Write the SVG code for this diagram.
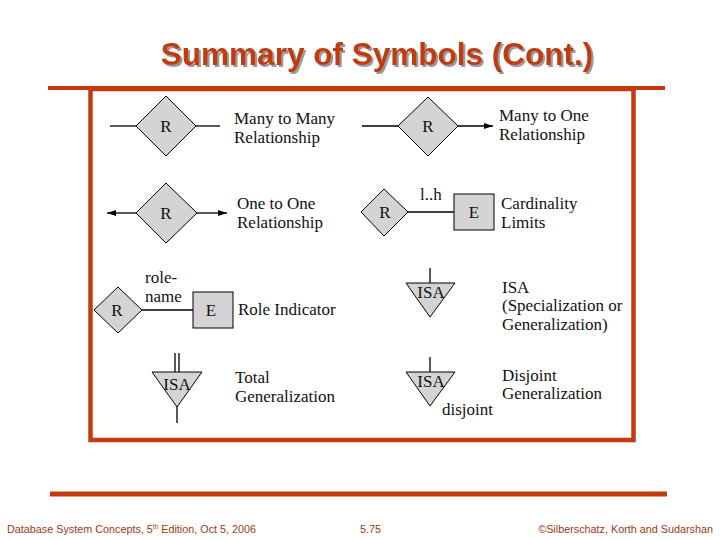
<svg xmlns="http://www.w3.org/2000/svg" width="720" height="540" viewBox="0 0 720 540">
<style>
.frame{stroke:#c23b0e;fill:none}
.shape{fill:#d4d4d4;stroke:#000;stroke-width:1}
.ln{stroke:#000;stroke-width:1.3;fill:none}
.t{font-family:"Liberation Serif","DejaVu Serif",serif;font-size:17px;fill:#111}
.c{text-anchor:middle}
.title{font-family:"Liberation Sans",Arial,sans-serif;font-weight:bold;font-size:31.5px;text-anchor:middle}
.foot{font-family:"Liberation Sans",Arial,sans-serif;font-size:10.8px;fill:#9a3a12}
</style>
<defs>
<marker id="arr" markerUnits="userSpaceOnUse" markerWidth="10" markerHeight="8" refX="9" refY="4" orient="auto">
<path d="M0,1 L9,4 L0,7 z" fill="#000"/>
</marker>
<filter id="shadow" x="-5%" y="-20%" width="110%" height="140%">
<feDropShadow dx="2" dy="2" stdDeviation="0.4" flood-color="#9a9a9a" flood-opacity="1"/>
</filter>
</defs>
<rect width="720" height="540" fill="#fff"/>
<!-- title -->
<text class="title" x="377" y="65" fill="#c23b0e" filter="url(#shadow)">Summary of Symbols (Cont.)</text>
<!-- frame -->
<line class="frame" x1="48" y1="88" x2="665" y2="88" stroke-width="4"/>
<rect class="frame" x="90.5" y="89" width="543" height="351" stroke-width="4.5"/>
<line class="frame" x1="50" y1="494" x2="667" y2="494" stroke-width="5"/>

<g id="connectors">
<line class="ln" x1="110" y1="126" x2="136" y2="126"/>
<line class="ln" x1="196" y1="126" x2="220" y2="126"/>
<line class="ln" x1="136" y1="213" x2="107" y2="213" marker-end="url(#arr)"/>
<line class="ln" x1="197" y1="213" x2="227" y2="213" marker-end="url(#arr)"/>
<line class="ln" x1="362" y1="126" x2="398" y2="126"/>
<line class="ln" x1="458" y1="126" x2="493" y2="126" marker-end="url(#arr)"/>
<line class="ln" x1="408" y1="212" x2="454" y2="212"/>
<line class="ln" x1="142" y1="310" x2="193" y2="310"/>
<line class="ln" x1="175" y1="353" x2="175" y2="372"/>
<line class="ln" x1="179" y1="353" x2="179" y2="372"/>
<line class="ln" x1="177" y1="407" x2="177" y2="423"/>
<line class="ln" x1="430" y1="268" x2="430" y2="283"/>
<line class="ln" x1="430" y1="357" x2="430" y2="372"/>
</g>

<g id="many-to-many">
<polygon class="shape" points="136,126 166,96 196,126 166,156"/>
<text class="t c" x="166" y="132">R</text>
<text class="t" x="234" y="124">Many to Many</text>
<text class="t" x="234" y="143">Relationship</text>
</g>

<g id="one-to-one">
<polygon class="shape" points="136,213 166,183 197,213 166,243"/>
<text class="t c" x="166" y="219">R</text>
<text class="t" x="237" y="209">One to One</text>
<text class="t" x="237" y="228">Relationship</text>
</g>

<g id="many-to-one">
<polygon class="shape" points="398,126 428,97 458,126 428,156"/>
<text class="t c" x="428" y="132">R</text>
<text class="t" x="499" y="121">Many to One</text>
<text class="t" x="499" y="140">Relationship</text>
</g>

<g id="cardinality">
<polygon class="shape" points="361,212 384,189 408,212 384,236"/>
<text class="t c" x="385" y="218">R</text>
<text class="t" x="420" y="200">l..h</text>
<rect class="shape" x="454" y="194" width="40" height="36"/>
<text class="t c" x="474" y="218">E</text>
<text class="t" x="501" y="209">Cardinality</text>
<text class="t" x="501" y="228">Limits</text>
</g>

<g id="role-indicator">
<polygon class="shape" points="94,310 118,287 142,310 118,333"/>
<text class="t c" x="117" y="316">R</text>
<text class="t" x="145" y="283">role-</text>
<text class="t" x="145" y="302">name</text>
<rect class="shape" x="193" y="292" width="40" height="36"/>
<text class="t c" x="211" y="316">E</text>
<text class="t" x="238" y="315">Role Indicator</text>
</g>

<g id="total-generalization">
<polygon class="shape" points="152,372 202,372 177,407"/>
<text class="t c" x="177" y="390">ISA</text>
<text class="t" x="235" y="383">Total</text>
<text class="t" x="235" y="402">Generalization</text>
</g>

<g id="isa">
<polygon class="shape" points="406,283 455,283 430,317"/>
<text class="t c" x="431" y="298">ISA</text>
<text class="t" x="502" y="293">ISA</text>
<text class="t" x="502" y="311">(Specialization or</text>
<text class="t" x="502" y="330">Generalization)</text>
</g>

<g id="disjoint-generalization">
<polygon class="shape" points="406,372 455,372 430,406"/>
<text class="t c" x="431" y="387">ISA</text>
<text class="t" x="442" y="415">disjoint</text>
<text class="t" x="502" y="381">Disjoint</text>
<text class="t" x="502" y="399">Generalization</text>
</g>

<!-- footer -->
<text class="foot" x="7" y="533">Database System Concepts, 5<tspan font-size="6.5" dy="-4">th</tspan><tspan dy="4"> Edition, Oct 5, 2006</tspan></text>
<text class="foot" x="360" y="533">5.75</text>
<text class="foot" x="713" y="533" text-anchor="end">©Silberschatz, Korth and Sudarshan</text>
</svg>
